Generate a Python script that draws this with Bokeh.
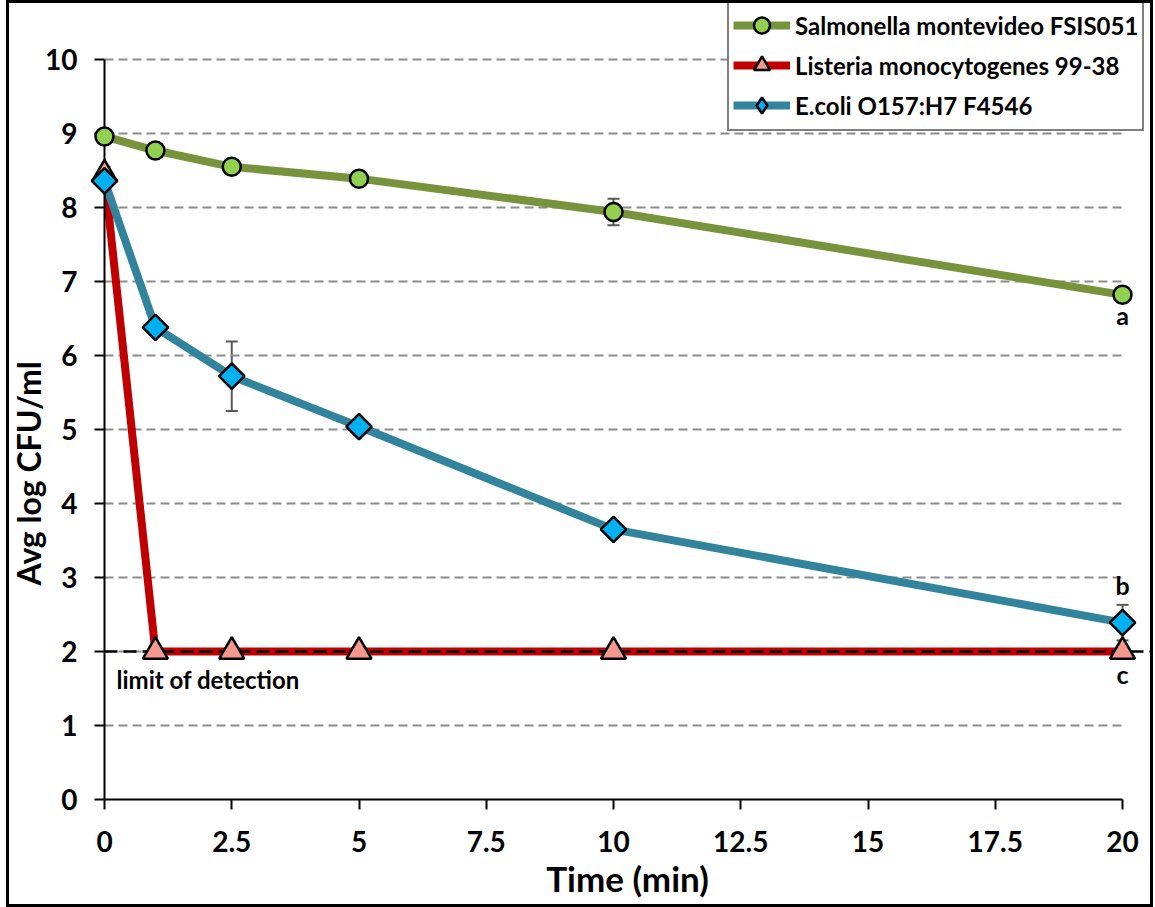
from bokeh.plotting import figure
from bokeh.models import (ColumnDataSource, FixedTicker, Legend, LegendItem,
                          Whisker, TeeHead, Span, Range1d, Title)
from bokeh.core.properties import value
from bokeh.embed import file_html
from bokeh.resources import INLINE
import math

# ---------------- data ----------------
time_min = [0, 1, 2.5, 5, 10, 20]
salmonella = [8.96, 8.77, 8.55, 8.39, 7.94, 6.82]
salmonella_err = [0.03, 0.03, 0.03, 0.04, 0.18, 0.10]
listeria = [8.45, 2.0, 2.0, 2.0, 2.0, 2.0]
listeria_err = [0.10, 0.0, 0.0, 0.0, 0.0, 0.0]
ecoli = [8.36, 6.38, 5.72, 5.04, 3.65, 2.39]
ecoli_err = [0.15, 0.04, 0.47, 0.04, 0.04, 0.24]
series_names = ["Salmonella montevideo FSIS051",
                "Listeria monocytogenes 99-38",
                "E.coli O157:H7 F4546"]
end_letters = ["a", "c", "b"]          # Salmonella, Listeria, E.coli at 20 min
x_ticks = [0, 2.5, 5, 7.5, 10, 12.5, 15, 17.5, 20]
x_tick_labels = ["0", "2.5", "5", "7.5", "10", "12.5", "15", "17.5", "20"]
y_ticks = list(range(0, 11))
grid_levels = list(range(1, 11))
detection_limit = 2.0
detection_label = "limit of detection"
x_title = "Time (min)"
y_title = "Avg log CFU/ml"

FONT = "Lato"

p = figure(width=1141, height=901,
           x_range=Range1d(0, 20.55), y_range=Range1d(0, 10.757),
           output_backend="svg", toolbar_location=None,
           min_border_left=95, min_border_right=0,
           min_border_top=0, min_border_bottom=105)
p.styles = {
    "margin-left": "9px",
    "margin-top": "3px",
    "outline": "3px solid black",
}
p.xgrid.visible = False
p.ygrid.visible = False
p.outline_line_color = None
p.background_fill_color = "white"
p.border_fill_color = "white"

# axes
for ax in (p.xaxis[0], p.yaxis[0]):
    ax.axis_line_width = 2
    ax.axis_line_color = "black"
    ax.major_tick_line_width = 2
    ax.major_tick_line_color = "black"
    ax.major_tick_out = 10
    ax.major_tick_in = 0
    ax.minor_tick_line_color = None
    ax.major_label_text_font = FONT
    ax.major_label_text_font_style = "bold"
    ax.major_label_text_font_size = "28px"
    ax.major_label_text_color = "black"
    ax.axis_label_text_font = FONT
    ax.axis_label_text_font_style = "bold"
    ax.axis_label_text_font_size = "35px"
    ax.axis_label_text_line_height = 1.0
    ax.axis_label_text_color = "black"

p.xaxis.ticker = FixedTicker(ticks=x_ticks)
p.xaxis.major_label_overrides = {float(t): l for t, l in zip(x_ticks, x_tick_labels)}
p.xaxis.bounds = (x_ticks[0], x_ticks[-1])
p.xaxis.axis_label = x_title
p.xaxis.major_label_standoff = 21
p.xaxis.axis_label_standoff = 2

p.yaxis.ticker = FixedTicker(ticks=y_ticks)
p.yaxis.major_label_overrides = {float(t): str(t) for t in y_ticks}
p.yaxis.bounds = (y_ticks[0], y_ticks[-1])
p.yaxis.major_label_standoff = 17

ytitle = Title(text=y_title, align="left", offset=214, standoff=-10,
               vertical_align="bottom",
               text_font=FONT, text_font_style="bold", text_font_size="32px",
               text_line_height=1.0, text_color="black")
p.add_layout(ytitle, "left")

# dashed gridlines from x=0 to x=20
p.segment(x0=[x_ticks[0]] * len(grid_levels), x1=[x_ticks[-1]] * len(grid_levels),
          y0=grid_levels, y1=grid_levels,
          line_color="#8c8c8c", line_width=2, line_dash="9 5")

# error bars
colors_line = ["#77933C", "#C00000", "#31849B"]
colors_fill = ["#92D050", "#F4978E", "#00B0F0"]
series_vals = [salmonella, listeria, ecoli]
series_errs = [salmonella_err, listeria_err, ecoli_err]

for vals, errs in zip(series_vals, series_errs):
    src = ColumnDataSource(dict(
        x=time_min,
        upper=[v + e for v, e in zip(vals, errs)],
        lower=[v - e for v, e in zip(vals, errs)]))
    w = Whisker(base="x", upper="upper", lower="lower", source=src,
                line_color="#595959", line_width=2,
                upper_head=TeeHead(size=12, line_color="#595959", line_width=2),
                lower_head=TeeHead(size=12, line_color="#595959", line_width=2))
    p.add_layout(w)

# lines
line_renderers = []
for vals, c in zip(series_vals, colors_line):
    r = p.line(time_min, vals, line_color=c, line_width=8, line_join="round")
    line_renderers.append(r)

# legend diamond for E.coli (hidden beneath the rotated squares; the legend
# ignores marker rotation, so a real diamond shape is used there)
ecoli_legend_marker = p.scatter(time_min, ecoli, marker="diamond", size=18,
                                fill_color="#00B0F0", line_color="black",
                                line_width=2.5)

# detection limit line
lod = Span(location=detection_limit, dimension="width", line_color="black",
           line_width=2.5, line_dash="13 6", level="annotation")
p.add_layout(lod)

# markers
marker_specs = [("circle", 18, 0.0), ("triangle", 25, 0.0), ("square", 18, math.pi / 4)]
marker_renderers = []
for vals, fc, (mk, sz, ang) in zip(series_vals, colors_fill, marker_specs):
    r = p.scatter(time_min, vals, marker=mk, size=sz, angle=ang,
                  fill_color=fc, line_color="black", line_width=2.5,
                  level="overlay")
    marker_renderers.append(r)

legend_markers = [marker_renderers[0], marker_renderers[1], ecoli_legend_marker]

# significance letters
p.text(x=[time_min[-1]] * 3, y=[s[-1] for s in series_vals], text=end_letters,
       y_offset=[20, 22, -38], text_align="center", text_baseline="middle",
       text_font=value(FONT), text_font_style="bold", text_font_size="25px",
       text_color="black")

# detection label
p.text(x=[time_min[0]], y=[detection_limit], text=[detection_label],
       x_offset=12, y_offset=28, text_align="left", text_baseline="middle",
       text_font=value(FONT), text_font_style="bold", text_font_size="24px",
       text_color="black")

legend = Legend(items=[LegendItem(label=n, renderers=[lr, mr])
                       for n, lr, mr in zip(series_names, line_renderers, legend_markers)],
                location=(623, 668), margin=0, padding=4, spacing=0,
                glyph_width=57, glyph_height=40, label_height=40, label_standoff=5,
                label_text_font=FONT, label_text_font_style="bold",
                label_text_font_size="24px", label_text_color="black",
                border_line_color="black", border_line_width=2.5,
                background_fill_color="white", background_fill_alpha=1.0)
p.add_layout(legend)

open("out.html", "w").write(file_html(p, INLINE))
